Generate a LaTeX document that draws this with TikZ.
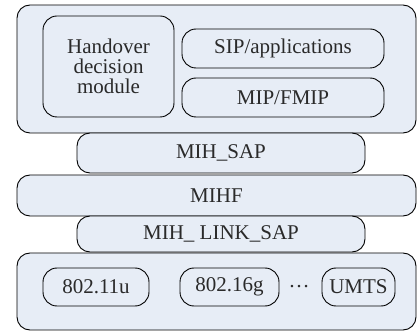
\documentclass[tikz,border=0pt]{standalone}
\usepackage{fontspec}
\setmainfont{Liberation Serif}
\definecolor{boxfill}{HTML}{E7EDF6}
\definecolor{txt}{HTML}{2A2A2A}
\begin{document}
\begin{tikzpicture}[x=1pt,y=-1pt,
  box/.style={draw=black, fill=boxfill, line width=0.9pt, rounded corners=13pt, inner sep=0pt, text=txt, font=\fontsize{21}{20}\selectfont, align=center},
  inbox/.style={box, rounded corners=14pt}]
\useasboundingbox (0,0) rectangle (418,331);
\node[box, minimum width=399, minimum height=128] (top) at (216.5,69) {};
\node[inbox, minimum width=131, minimum height=101] (hand) at (108.5,66.5) {Handover\\decision\\module};
\node[inbox, minimum width=202, minimum height=39] (sip) at (283,48.5) {SIP/applications};
\node[inbox, minimum width=202, minimum height=39] (mip) at (283,97.5) {MIP/FMIP};
\node[box, minimum width=288, minimum height=40] (sap) at (221,153) {MIH\_SAP};
\node[box, minimum width=399, minimum height=41] (mihf) at (216.5,195.5) {MIHF};
\node[box, minimum width=288, minimum height=36] (link) at (221,234) {MIH\_ LINK\_SAP};
\node[box, minimum width=399, minimum height=77] (bot) at (216.5,291.5) {};
\node[inbox, minimum width=106, minimum height=38] (n1) at (96,287) {802.11u};
\node[inbox, minimum width=99, minimum height=38] (n2) at (229.5,287) {802.16g};
\node[text=txt, font=\fontsize{21}{20}\selectfont, inner sep=0pt] (dots) at (299,287) {\ldots};
\node[inbox, minimum width=73, minimum height=38] (n3) at (358.5,287) {UMTS};
\end{tikzpicture}
\end{document}
